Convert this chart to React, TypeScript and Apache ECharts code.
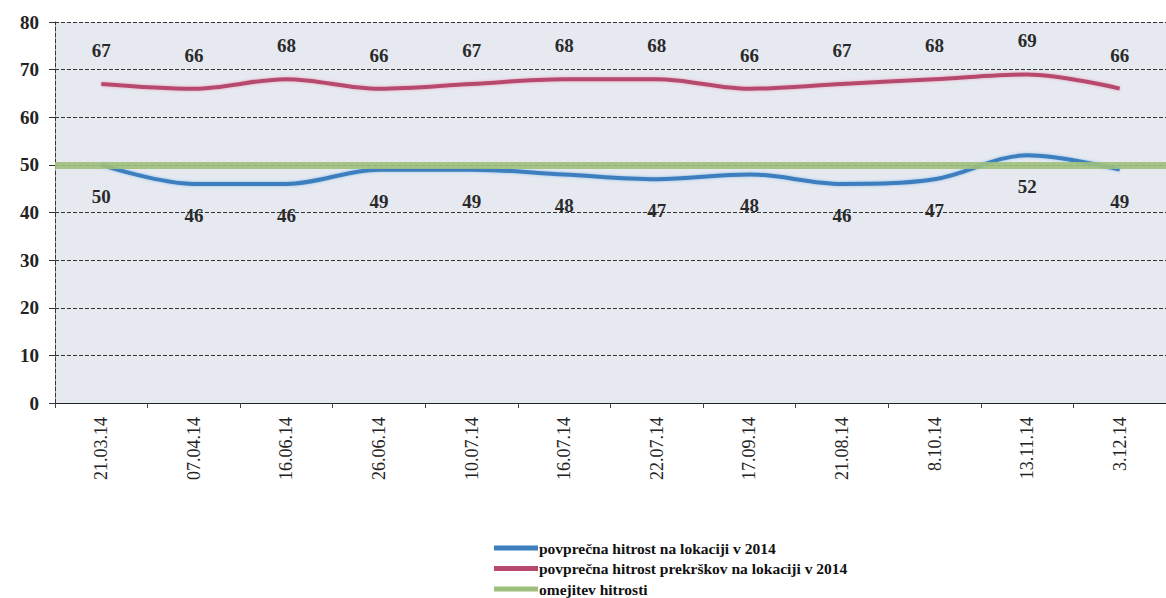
import React, { useEffect, useRef } from "react";
import * as echarts from "echarts";

const categories = ["21.03.14", "07.04.14", "16.06.14", "26.06.14", "10.07.14", "16.07.14", "22.07.14", "17.09.14", "21.08.14", "8.10.14", "13.11.14", "3.12.14"];
const avgSpeed = [50, 46, 46, 49, 49, 48, 47, 48, 46, 47, 52, 49];
const avgViolationSpeed = [67, 66, 68, 66, 67, 68, 68, 66, 67, 68, 69, 66];
const speedLimit = 50;
const seriesNames = [
  "povprečna hitrost na lokaciji v 2014",
  "povprečna hitrost prekrškov na lokaciji v 2014",
  "omejitev hitrosti",
];

const SERIF = "Liberation Serif";

export default function App() {
  const ref = useRef<HTMLDivElement>(null);
  useEffect(() => {
    if (!ref.current) return;
    const chart = echarts.init(ref.current, null, { renderer: "svg" });
    const dataLabel = (position: string, distance: number) => ({
      show: true,
      position,
      distance,
      fontSize: 19,
      fontWeight: "bold",
      fontFamily: SERIF,
      color: "#2a2a2a",
    });
    chart.setOption({
      animation: false,
      backgroundColor: "#ffffff",
      textStyle: { fontFamily: SERIF },
      grid: {
        left: 55,
        right: -19,
        top: 22,
        bottom: 195,
        show: true,
        backgroundColor: "#e6e9f0",
        borderWidth: 0,
      },
      legend: {
        orient: "vertical",
        left: 494,
        top: 540,
        padding: 0,
        itemGap: 4.5,
        itemWidth: 44,
        itemHeight: 5,
        icon: "rect",
        textStyle: { fontFamily: SERIF, fontSize: 15.5, lineHeight: 15.5, fontWeight: "bold", color: "#111", padding: [0, 0, 0, -4] },
        data: seriesNames,
      },
      xAxis: {
        type: "category",
        data: categories,
        boundaryGap: true,
        axisLine: { show: true, lineStyle: { color: "#222", width: 1 } },
        axisTick: { show: true, alignWithLabel: false, lineStyle: { color: "#444" } },
        axisLabel: { rotate: 90, fontSize: 18, color: "#222", fontFamily: SERIF, margin: 14 },
        splitLine: { show: false },
      },
      yAxis: {
        type: "value",
        min: 0,
        max: 80,
        interval: 10,
        axisLine: { show: true, lineStyle: { color: "#333", type: "dashed" } },
        axisTick: { show: true, length: 6, lineStyle: { color: "#333" } },
        axisLabel: { fontSize: 19, fontWeight: "bold", color: "#222", fontFamily: SERIF, margin: 16 },
        splitLine: { show: true, lineStyle: { color: "#333", type: "dashed", width: 1 } },
      },
      series: [
        {
          name: seriesNames[2],
          type: "line",
          data: [],
          itemStyle: { color: "#9fc07c" },
          lineStyle: { color: "#9fc07c", width: 7 },
          markLine: {
            silent: true,
            symbol: "none",
            label: { show: false },
            lineStyle: { color: "#9fc07c", width: 7, type: "solid", opacity: 0.9 },
            data: [{ yAxis: speedLimit }],
          },
        },
        {
          name: seriesNames[0],
          type: "line",
          data: avgSpeed,
          smooth: 0.35,
          showSymbol: true,
          symbol: "circle",
          symbolSize: 0.1,
          itemStyle: { color: "#3d7ebf" },
          lineStyle: { color: "#3d7ebf", width: 4, shadowColor: "rgba(120,180,230,0.8)", shadowBlur: 3 },
          label: dataLabel("bottom", 22),
        },
        {
          name: seriesNames[1],
          type: "line",
          data: avgViolationSpeed,
          smooth: 0.35,
          showSymbol: true,
          symbol: "circle",
          symbolSize: 0.1,
          itemStyle: { color: "#b8496e" },
          lineStyle: { color: "#b8496e", width: 4, shadowColor: "rgba(230,150,180,0.8)", shadowBlur: 3 },
          label: dataLabel("top", 24),
        },
      ],
    });
    return () => chart.dispose();
  }, []);
  return (
    <div
      ref={ref}
      style={{ position: "fixed", left: 0, top: 0, width: 1166, height: 598, overflow: "hidden" }}
    />
  );
}
